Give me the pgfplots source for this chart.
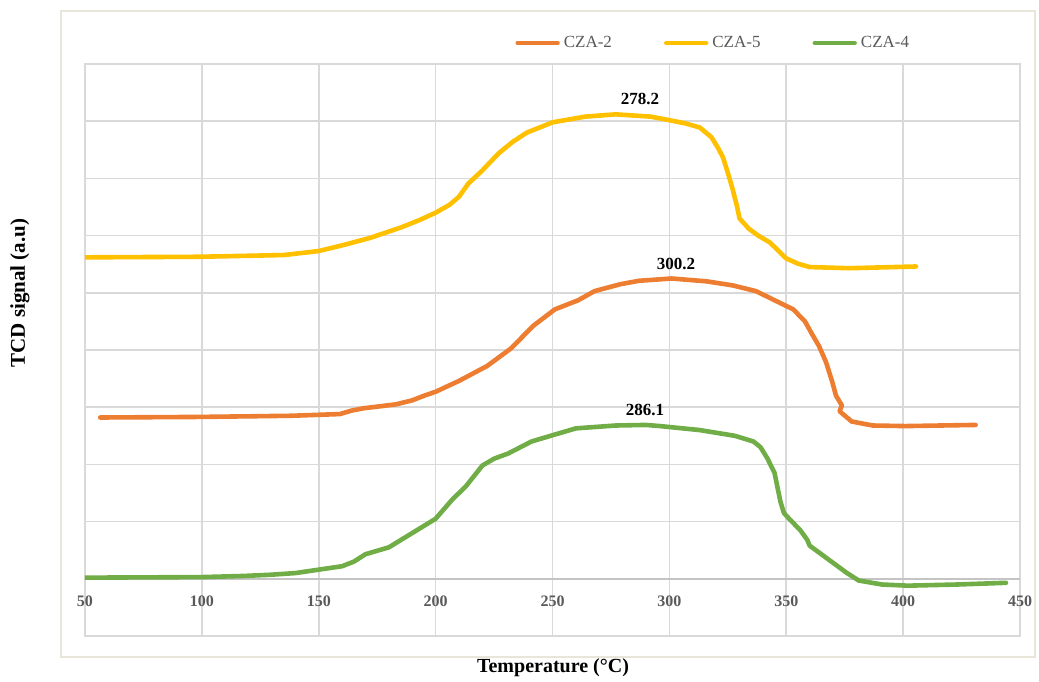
\documentclass[border=0pt]{standalone}
\usepackage{pgfplots}
\pgfplotsset{compat=1.18}
\usepackage{fontspec}
\setmainfont{Liberation Serif}
\definecolor{cOr}{HTML}{ED7D31}
\definecolor{cYe}{HTML}{FFC000}
\definecolor{cGr}{HTML}{70AD47}
\definecolor{gridc}{HTML}{D9D9D9}
\definecolor{zeroc}{HTML}{C4C4C4}
\definecolor{tickc}{HTML}{595959}
\definecolor{framec}{HTML}{E8E5D9}
\begin{document}
\begin{tikzpicture}
\useasboundingbox (-42.5pt,-22.5pt) rectangle (477pt,318pt);
\draw[framec, line width=0.7pt] (-12pt,-10.5pt) rectangle (475pt,312.5pt);
\begin{axis}[
  at={(0,0)}, anchor=south west,
  scale only axis, width=467.5pt, height=286pt,
  xmin=50, xmax=450, ymin=-1, ymax=9,
  xtick={50,100,...,450}, ytick={-1,0,...,9},
  yticklabels={},
  grid=major, grid style={gridc, line width=0.8pt},
  axis line style={gridc, line width=0.8pt},
  major tick length=0pt,
  /pgf/number format/assume math mode=true,
  xticklabel style={font=\bfseries\fontsize{8}{9.6}\selectfont, text=tickc, yshift=23.5pt},
  legend columns=3,
  legend style={at={(0.673,1)}, anchor=center, yshift=10.5pt, draw=none, fill=none,
    font=\fontsize{8.5}{10}\selectfont, text=tickc,
    /tikz/every even column/.append style={column sep=24pt}},
  legend image code/.code={\draw[#1, line width=2.2pt, line cap=round] (0pt,0pt) -- (20pt,0pt);},
  every axis plot/.append style={line width=2.3pt, line join=round, line cap=round},
]
\draw[zeroc, line width=0.8pt] (axis cs:50,0) -- (axis cs:450,0);
\addplot[cOr] coordinates {
(56.5,2.82) (99,2.83) (138,2.85) (159,2.88) (164,2.94) (169,2.98) (183,3.05)
(190,3.12) (195,3.20) (200,3.27) (210,3.46) (222,3.72) (232,4.02) (242,4.43)
(251,4.71) (261,4.87) (268,5.03) (279,5.15) (287,5.21) (301,5.25) (316,5.20)
(327,5.13) (337,5.03) (344,4.89) (353,4.71) (358,4.50) (361,4.28) (364,4.07)
(367,3.79) (369.7,3.44) (371.3,3.20) (373.8,3.03) (372.8,2.93) (378,2.75)
(387,2.68) (401,2.67) (431,2.69)
};
\addlegendentry{CZA-2}
\addplot[cYe] coordinates {
(50,5.62) (99,5.63) (135,5.66) (150,5.73) (161,5.84) (172,5.96) (185,6.14)
(193,6.27) (200,6.40) (206,6.54) (210,6.68) (214,6.91) (220,7.14) (227,7.44)
(233,7.64) (239,7.80) (250,7.98) (264,8.08) (277,8.12) (292,8.08) (301,8.01)
(307,7.96) (313,7.89) (318,7.72) (321,7.52) (323,7.36) (325,7.10) (327,6.82)
(329,6.50) (330,6.30) (334,6.12) (338,6.00) (343,5.88) (347,5.72) (350,5.60)
(355,5.51) (360,5.45) (377,5.43) (405.5,5.46)
};
\addlegendentry{CZA-5}
\addplot[cGr] coordinates {
(50,0.02) (100,0.03) (118,0.05) (129,0.07) (140,0.10) (150,0.16) (160,0.22)
(165,0.30) (170,0.43) (180,0.55) (190,0.80) (200,1.05) (207,1.38) (213,1.62)
(220,1.98) (225,2.10) (231,2.19) (241,2.40) (250,2.51) (260,2.63) (277,2.68)
(290,2.69) (296,2.67) (313,2.60) (328,2.50) (336,2.40) (339,2.30) (342,2.10)
(345,1.85) (346.5,1.55) (347.5,1.35) (349,1.15) (351,1.06) (356,0.85)
(359,0.68) (360,0.58) (366,0.40) (372,0.22) (376,0.10) (381,-0.03)
(391,-0.10) (402,-0.12) (423,-0.10) (444,-0.07)
};
\addlegendentry{CZA-4}
\node[font=\bfseries\fontsize{8.5}{10}\selectfont] at (axis cs:287.4,8.39) {278.2};
\node[font=\bfseries\fontsize{8.5}{10}\selectfont] at (axis cs:302.8,5.51) {300.2};
\node[font=\bfseries\fontsize{8.5}{10}\selectfont] at (axis cs:289.6,2.95) {286.1};
\end{axis}
\node[font=\bfseries\fontsize{10}{12}\selectfont] at (234pt,-16pt) {Temperature (°C)};
\node[font=\bfseries\fontsize{10.5}{12}\selectfont, rotate=90] at (-32.5pt,171.5pt) {TCD signal (a.u)};
\end{tikzpicture}
\end{document}
